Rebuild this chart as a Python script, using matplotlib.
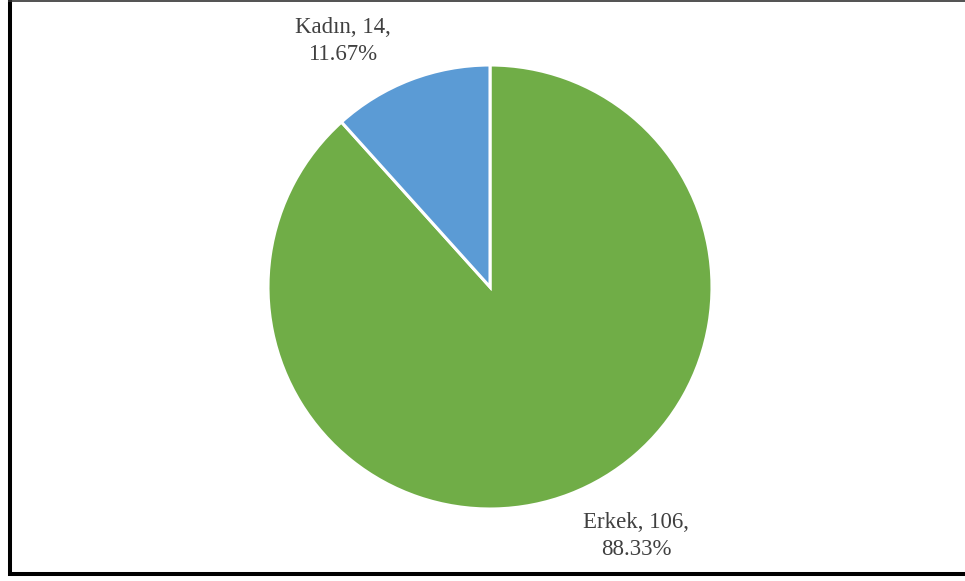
import matplotlib.pyplot as plt

# gender split of respondents
labels = ['Erkek', 'Kadın']
counts = [106, 14]
colors = ['#70AD47', '#5B9BD5']

W, H = 965, 581
fig = plt.figure(figsize=(W / 100, H / 100), dpi=100)
ax = fig.add_axes([0, 0, 1, 1])

total = sum(counts)
ax.pie(counts, colors=colors, startangle=90, counterclock=False,
       center=(490, H - 287), radius=222,
       wedgeprops={'edgecolor': 'white', 'linewidth': 2.2})

# data labels: name, count, percent
label_pos = [(636, H - 536), (343, H - 41)]
for name, n, (x, y) in zip(labels, counts, label_pos):
  pct = n / total * 100
  ax.text(x, y, f'{name}, {n},\n{pct:.2f}%', ha='center', va='center',
          fontsize=16.5, family='Liberation Serif', color='#404040',
          linespacing=1.32)

ax.set_xlim(0, W)
ax.set_ylim(0, H)
ax.set_aspect('equal')
ax.axis('off')

# chart frame
ax.plot([9.5, 9.5], [H - 576, H], color='black', lw=2.9, solid_capstyle='butt')
ax.plot([8, W], [H - 574, H - 574], color='black', lw=2.9, solid_capstyle='butt')
ax.plot([8, W], [H - 1, H - 1], color='#333333', lw=1.2, solid_capstyle='butt')

fig.savefig('out.png', dpi=100)
